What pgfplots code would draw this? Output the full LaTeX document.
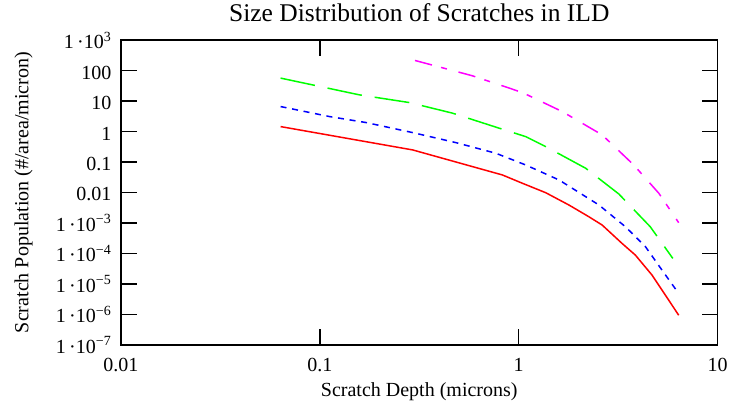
\documentclass[border=0pt]{standalone}
\usepackage{fontspec}
\setmainfont{Liberation Serif}
\usepackage{pgfplots}
\pgfplotsset{compat=1.18}
\newcommand{\ee}[1]{1\,·10\textsuperscript{#1}}
\definecolor{cred}{RGB}{255,0,0}
\definecolor{cblue}{RGB}{0,0,255}
\definecolor{cgreen}{RGB}{0,255,0}
\definecolor{cmag}{RGB}{255,0,255}
\begin{document}
\begin{tikzpicture}
\path[use as bounding box] (-121pt,-66.25pt) rectangle (614pt,344.75pt);
\begin{axis}[
  at={(0pt,0pt)}, anchor=south west,
  scale only axis, width=596.5pt, height=304.5pt,
  xmode=log, ymode=log,
  xmin=0.01, xmax=10, ymin=1e-7, ymax=1e3,
  xtick={0.01,0.1,1,10}, xticklabels={0.01,0.1,1,10},
  ytick={1e-7,1e-6,1e-5,1e-4,1e-3,1e-2,1e-1,1,10,100,1000},
  yticklabels={\ee{−7},\ee{−6},\ee{−5},\ee{−4},\ee{−3},0.01,0.1,1,10,100,\ee{3}},
  xminorticks=false, yminorticks=false,
  tick align=inside, major tick length=16pt,
  axis line style={line width=1.6pt},
  tick style={line width=1.4pt, black},
  ticklabel style={font=\fontsize{20}{24}\selectfont},
  xticklabel style={anchor=base, yshift=-27pt, inner sep=0pt},
  yticklabel style={anchor=base east, xshift=-9.5pt, yshift=-8.5pt, inner sep=0pt},
  title={Size Distribution of Scratches in ILD},
  title style={at={(axis description cs:0.5,1)}, anchor=base, yshift=12.25pt, inner sep=0pt, font=\fontsize{25.5}{30}\selectfont},
  xlabel={Scratch Depth (microns)},
  xlabel style={at={(axis description cs:0.5,0)}, anchor=base, yshift=-52pt, inner sep=0pt, font=\fontsize{20}{24}\selectfont},
  ylabel={Scratch Population (\#/area/micron)},
  ylabel style={at={(axis description cs:0,0.5)}, anchor=base, yshift=92.5pt, inner sep=0pt, font=\fontsize{20}{24}\selectfont},
]
\addplot[cred, line width=1.5pt] coordinates {
(0.0635,1.46) (0.293,0.25) (0.828,0.0377) (1.044,0.0201) (1.368,9.84e-3)
(1.79,3.88e-3) (2.254,1.6e-3) (2.63,8.53e-4) (3.31,2.13e-4) (3.864,8.79e-5)
(4.688,1.93e-5) (5.47,4.25e-6) (6.38,9.33e-7)};
\addplot[cblue, line width=1.5pt, dash pattern=on 6pt off 5.7pt] coordinates {
(0.0635,6.64) (0.112,3.11) (0.171,1.98) (0.293,0.927) (0.483,0.435)
(0.767,0.195) (1.084,0.0804) (1.596,0.0258) (2.535,3.88e-3) (3.443,7.5e-4)
(4.345,1.65e-4) (5.26,2.82e-5) (6.38,4.83e-6)};
\addplot[cgreen, line width=1.5pt, dash pattern=on 35pt off 13pt] coordinates {
(0.0635,57.1) (0.158,16.1) (0.282,8.99) (0.465,4.03) (0.798,1.294)
(1.084,0.686) (1.368,0.321) (2.173,0.0625) (3.19,8.93e-3) (4.59,7.5e-4)
(5.96,6.85e-5)};
\addplot[cmag, line width=1.5pt, dash pattern=on 17.5pt off 9.5pt on 6pt off 12pt] coordinates {
(0.301,216.8) (0.586,67.9) (1.044,19.2) (1.656,4.55) (2.63,0.778)
(3.79,0.0804) (5.07,9.42e-3) (6.38,1.02e-3)};
\end{axis}
\end{tikzpicture}
\end{document}
